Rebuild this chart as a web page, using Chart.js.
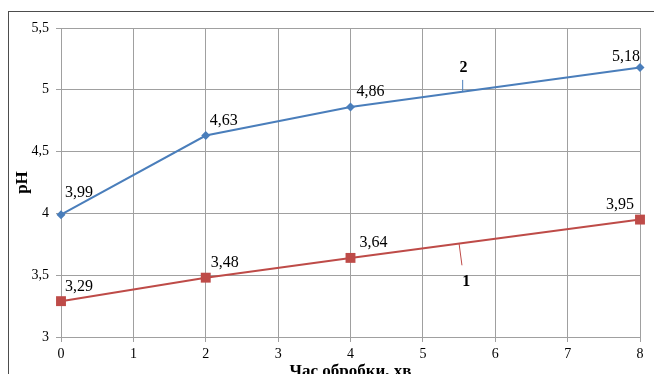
<!DOCTYPE html>
<html>
<head>
<meta charset="utf-8">
<script src="https://cdn.jsdelivr.net/npm/chart.js@4"></script>
<style>
  html, body { margin: 0; padding: 0; background: #fff; overflow: hidden; }
  #wrap { position: relative; width: 654px; height: 400px; }
  #frame { position: absolute; left: 8px; top: 11px; width: 700px; height: 420px; border: 1px solid #4d4d4d; }
  #rendcont { position: absolute; left: 0; top: 0; }
</style>
</head>
<body>
<div id="wrap">
  <div id="frame"></div>
  <canvas id="rendcont" width="654" height="400"></canvas>
</div>
<script>
// time of treatment, min
let times = [0, 2, 4, 8];
// pH, curve 1 (red) and curve 2 (blue)
let ph1 = [3.29, 3.48, 3.64, 3.95];
let ph2 = [3.99, 4.63, 4.86, 5.18];
let yTickLabels = ["3", "3,5", "4", "4,5", "5", "5,5"];
let xTickLabels = ["0", "1", "2", "3", "4", "5", "6", "7", "8"];
let xTitle = "Час обробки, хв";
let yTitle = "pH";

// where each value label sits relative to its point: [dx, dy, align]
let place1 = [[4, -14, "left"], [5, -15, "left"], [9, -15, "left"], [-6, -15, "right"]];
let place2 = [[4, -22, "left"], [4, -15, "left"], [6, -15, "left"], [0, -11, "right"]];
// curve numbers with leader lines, in data units: text pos, line from, line to
let tags = [
  { text: "1", at: [5.6, 3.445], from: [5.5, 3.756], to: [5.54, 3.58] },
  { text: "2", at: [5.56, 5.176], from: [5.55, 4.984], to: [5.55, 5.08] }
];

const serif = "'Liberation Serif', 'DejaVu Serif', serif";
const blue = "#4a7ebb", red = "#be4b48", gridc = "#a0a0a0";

function fmt(v){
    return v.toFixed(2).replace(".", ",");
}

let valueLabels = {
  id: "valueLabels",
  afterDatasetsDraw(chart){
    let c = chart.ctx;
    c.save();
    c.font = "16px " + serif;
    c.fillStyle = "#000";
    c.textBaseline = "middle";
    chart.data.datasets.forEach((ds, i) => {
        let meta = chart.getDatasetMeta(i);
        meta.data.forEach((pt, j) => {
            let p = ds.place[j];
            c.textAlign = p[2];
            c.fillText(fmt(ds.data[j].y), pt.x + p[0], pt.y + p[1]);
        });
    });
    // curve numbers
    let xs = chart.scales.x, ys = chart.scales.y;
    tags.forEach((t, i) => {
        c.strokeStyle = i == 0 ? red : blue;
        c.lineWidth = 1;
        c.beginPath();
        c.moveTo(xs.getPixelForValue(t.from[0]), ys.getPixelForValue(t.from[1]));
        c.lineTo(xs.getPixelForValue(t.to[0]), ys.getPixelForValue(t.to[1]));
        c.stroke();
        c.font = "bold 16px " + serif;
        c.textAlign = "center";
        c.fillText(t.text, xs.getPixelForValue(t.at[0]), ys.getPixelForValue(t.at[1]));
    });
    c.restore();
  }
};

let cont = document.getElementById("rendcont").getContext("2d");
let cht = new Chart(cont, {
    type: "line",
    data: {
        datasets: [
          { label: "1",
            data: times.map((t, i) => ({ x: t, y: ph1[i] })),
            place: place1,
            borderColor: red,
            backgroundColor: red,
            borderWidth: 2,
            pointStyle: "rect",
            pointRadius: 7,
            pointBorderWidth: 0,
            tension: 0,
            clip: false
          },
          { label: "2",
            data: times.map((t, i) => ({ x: t, y: ph2[i] })),
            place: place2,
            borderColor: blue,
            backgroundColor: blue,
            borderWidth: 2,
            pointStyle: "rectRot",
            pointRadius: 4.5,
            pointBorderWidth: 0,
            tension: 0,
            clip: false
          }
        ]
    },
    options: {
        responsive: false,
        animation: false,
        layout: { padding: { left: 0, right: 14, top: 28, bottom: 0 } },
        scales: {
            x: {
                type: "linear",
                min: 0, max: 8,
                afterFit: (s) => { s.height = 63; },
                ticks: {
                    stepSize: 1,
                    padding: 4,
                    color: "#000",
                    font: { family: serif, size: 14 },
                    callback: (v, i) => xTickLabels[i]
                },
                grid: { color: gridc, tickLength: 5, tickColor: gridc },
                border: { color: gridc },
                title: {
                    display: true, text: xTitle, color: "#000",
                    font: { family: serif, size: 17, weight: "bold" },
                    padding: { top: 0, bottom: 18 }
                }
            },
            y: {
                min: 3, max: 5.5,
                afterFit: (s) => { s.width = 61; },
                ticks: {
                    stepSize: 0.5,
                    padding: 7,
                    color: "#000",
                    font: { family: serif, size: 14 },
                    callback: (v, i) => yTickLabels[i]
                },
                grid: { color: gridc, tickLength: 5, tickColor: gridc },
                border: { color: gridc },
                title: {
                    display: true, text: yTitle, color: "#000",
                    font: { family: serif, size: 17, weight: "bold" },
                    padding: { top: 12, bottom: 0 }
                }
            }
        },
        plugins: {
            legend: { display: false },
            tooltip: { enabled: false }
        }
    },
    plugins: [valueLabels]
});
</script>
</body>
</html>
